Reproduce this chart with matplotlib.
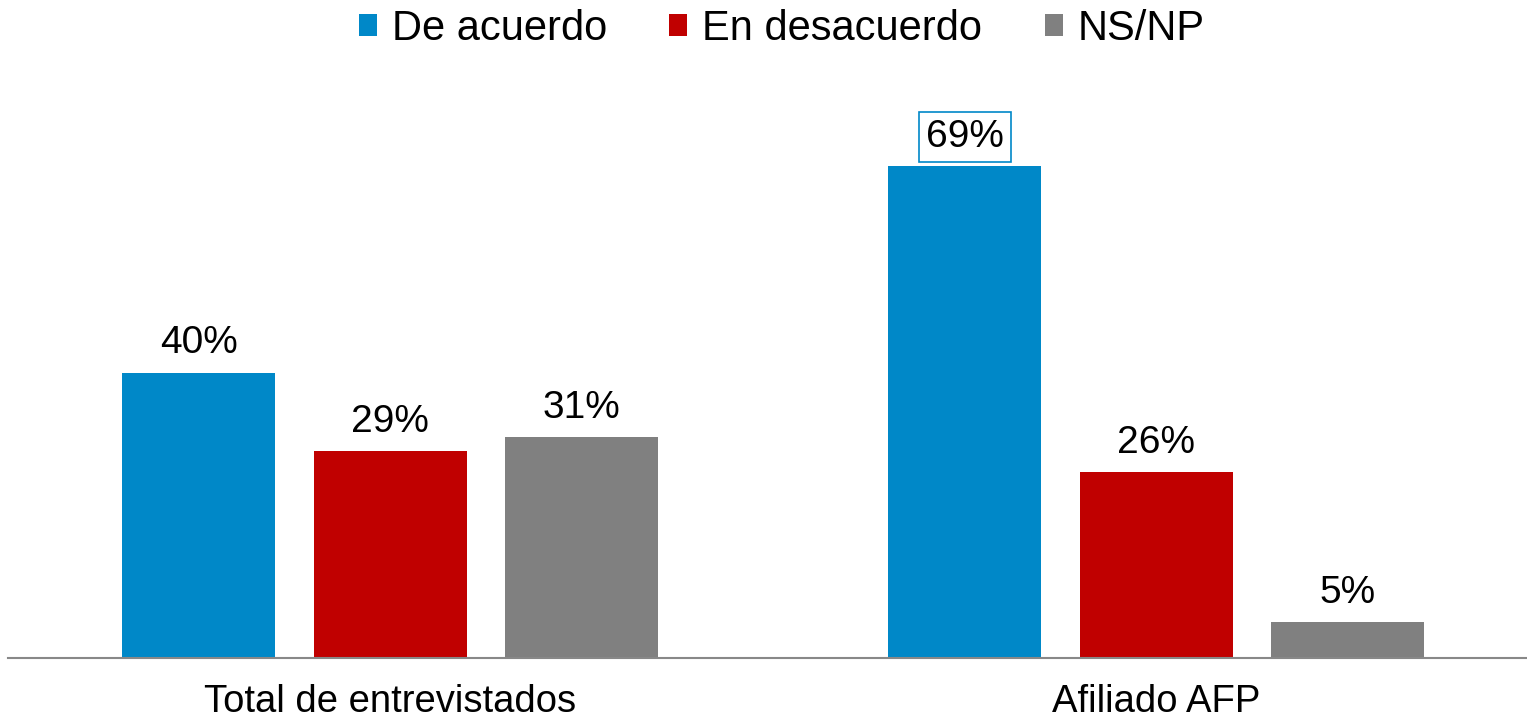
import matplotlib.pyplot as plt
import numpy as np

plt.rcParams['font.family'] = ['Liberation Sans', 'DejaVu Sans']

groups = ['Total de entrevistados', 'Afiliado AFP']
series = ['De acuerdo', 'En desacuerdo', 'NS/NP']
values = {
    'De acuerdo': [40, 69],
    'En desacuerdo': [29, 26],
    'NS/NP': [31, 5],
}
colors = ['#0088C8', '#C00000', '#808080']

fig = plt.figure(figsize=(15.27, 7.21), dpi=100)
ax = fig.add_axes([8 / 1527, 1 - 658 / 721, 1 - 8 / 1527, (658 - 80) / 721])

x = np.arange(len(groups))
width = 0.2
offsets = [-0.25, 0, 0.25]

for name, off, col in zip(series, offsets, colors):
    bars = ax.bar(x + off, values[name], width, color=col, label=name)
    for b, v in zip(bars, values[name]):
        txt = ax.annotate(f'{v}%', (b.get_x() + b.get_width() / 2, v),
                          xytext=(0, 8), textcoords='offset points',
                          ha='center', va='bottom', fontsize=28)
        if name == 'De acuerdo' and v == 69:
            txt.set_bbox(dict(boxstyle='square,pad=0.18', fc='white',
                              ec=col, lw=1.2))

ax.set_xlim(-0.499, 1.484)
ax.set_ylim(0, 81)
ax.set_xticks(x)
ax.set_xticklabels(groups, fontsize=27.5)
ax.tick_params(axis='x', length=0, pad=19)
ax.set_yticks([])
for s in ['top', 'right', 'left']:
    ax.spines[s].set_visible(False)
ax.spines['bottom'].set_color('#888888')
ax.spines['bottom'].set_linewidth(1.5)

fig.legend(loc='upper center', bbox_to_anchor=(0.512, 1.04), ncol=3,
           frameon=False, fontsize=30, handlelength=0.43, handleheight=0.43,
           handletextpad=0.36, columnspacing=1.5)

fig.savefig('out.png', dpi=100)
